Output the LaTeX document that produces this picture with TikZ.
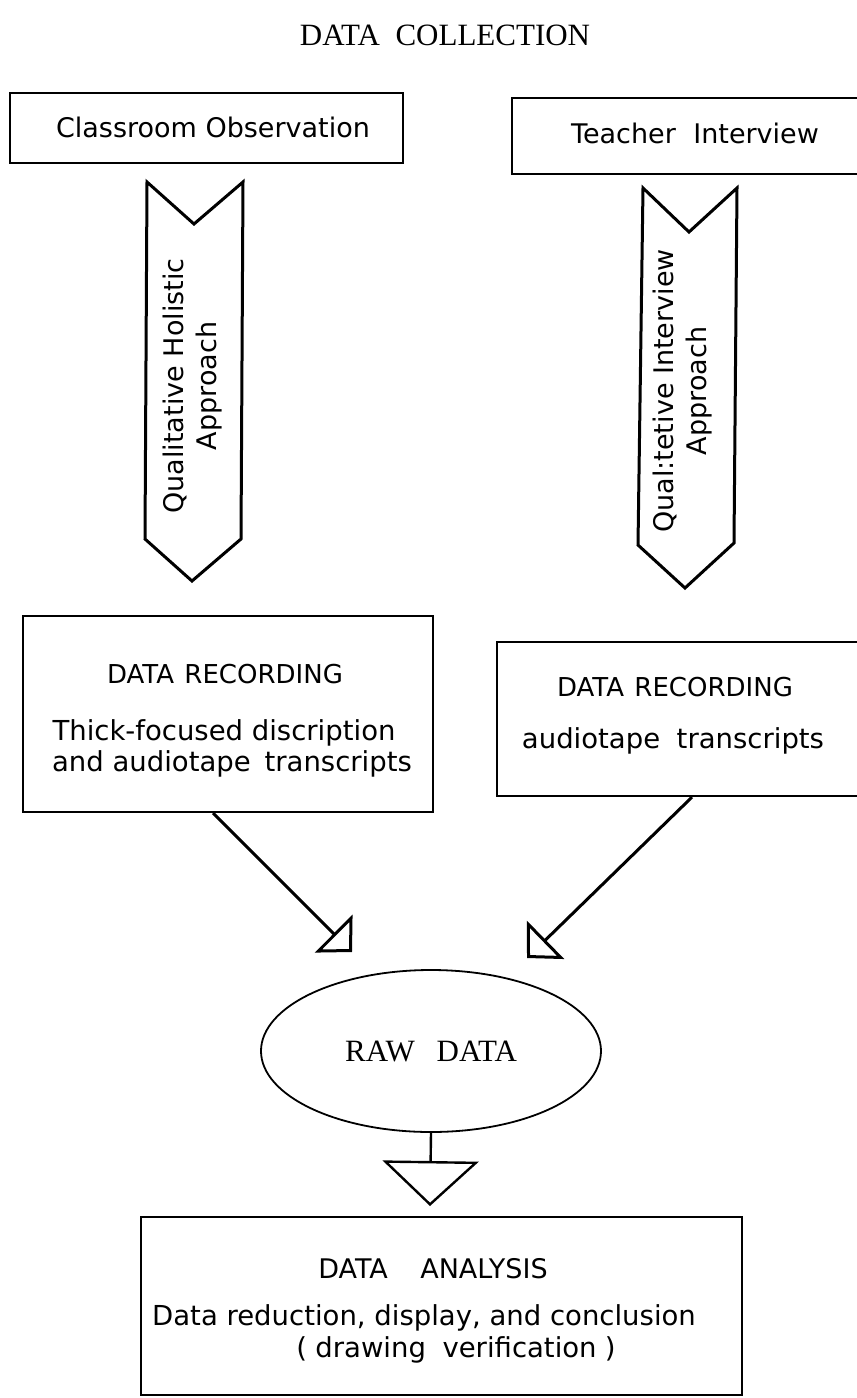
\documentclass[tikz,border=0pt]{standalone}
\usepackage{fontspec}
\setmainfont{Liberation Serif}
\newfontfamily\plotfont{DejaVu Sans}
\usetikzlibrary{arrows.meta,shapes.geometric}
\begin{document}
\begin{tikzpicture}[x=1pt,y=-1pt,
  box/.style={draw, line width=2.2pt, rectangle, inner sep=0pt},
  bigtxt/.style={font=\plotfont\fontsize{27}{33}\selectfont, inner sep=0pt, align=center},
  midtxt/.style={font=\plotfont\fontsize{26}{31}\selectfont, inner sep=0pt, align=center},
  lowtxt/.style={font=\plotfont\fontsize{27.5}{31}\selectfont, inner sep=0pt, align=center},
  sertxt/.style={font=\fontsize{31}{36}\selectfont, inner sep=0pt},
  chevron/.style={draw, line width=3pt, line join=miter},
  conn/.style={draw, line width=3pt, -{Triangle[open, length=26pt, width=53pt]}},
  connb/.style={draw, line width=2.4pt, -{Triangle[open, length=45pt, width=96pt]}}
]
\useasboundingbox (0,0) rectangle (857,1398);
\fill[white] (0,0) rectangle (857,1398);
\clip (0,0) rectangle (857,1398);

% title
\node[sertxt] (title) at (445,35) {DATA\hspace{0.5em}COLLECTION};

% top boxes
\node[box, minimum width=393pt, minimum height=70pt] (obs) at (206.5,128) {};
\node[bigtxt] (obstxt) at (213,127) {Classroom Observation};
\node[box, minimum width=358pt, minimum height=76pt] (int) at (691,136) {};
\node[bigtxt] (inttxt) at (695,133) {Teacher\hspace{0.65em}Interview};

% chevrons
\draw[chevron] (147,182) -- (194,224) -- (243,182) -- (241,539) -- (192,581) -- (145,539) -- cycle;
\node[bigtxt, rotate=90] (appr1) at (193,386) {Qualitative Holistic\\Approach};
\draw[chevron] (643,188) -- (689,232) -- (737,188) -- (734,543) -- (685,588) -- (638,545) -- cycle;
\node[bigtxt, rotate=90] (appr2) at (683,391) {Qual:tetive Interview\\Approach};

% data recording boxes
\node[box, minimum width=410pt, minimum height=196pt] (dr1) at (228,714) {};
\node[midtxt] (dr1a) at (225,674) {DATA\hspace{0.4em}RECORDING};
\node[lowtxt] (dr1b) at (224,733) {Thick-focused discription};
\node[lowtxt] (dr1c) at (232,764) {and audiotape\hspace{0.5em}transcripts};
\node[box, minimum width=373pt, minimum height=154pt] (dr2) at (683.5,719) {};
\node[midtxt] (dr2a) at (675,687) {DATA\hspace{0.4em}RECORDING};
\node[lowtxt] (dr2b) at (673,741) {audiotape\hspace{0.6em}transcripts};

% arrows into raw data
\coordinate (t1) at (352,952);
\coordinate (t2) at (527,958);
\draw[conn] ([xshift=-15pt]dr1.south) -- (t1);
\draw[conn] ([xshift=8.5pt]dr2.south) -- (t2);

% raw data
\node[draw, ellipse, line width=1.8pt, minimum width=340pt, minimum height=162pt, inner sep=0pt, font=\fontsize{31}{36}\selectfont] (raw) at (431,1051) {RAW\hspace{0.7em}DATA};
\coordinate (tb) at (430,1206);
\draw[connb] (raw.south) -- (tb);

% data analysis
\node[box, minimum width=601pt, minimum height=178pt] (ana) at (441.5,1306) {};
\node[bigtxt] (ana1) at (433,1269) {DATA\hspace{1.2em}ANALYSIS};
\node[lowtxt] (ana2) at (424,1318) {Data reduction, display, and conclusion};
\node[lowtxt] (ana3) at (456,1350) {(\hspace{0.3em}drawing\hspace{0.6em}verification\hspace{0.3em})};
\end{tikzpicture}
\end{document}
